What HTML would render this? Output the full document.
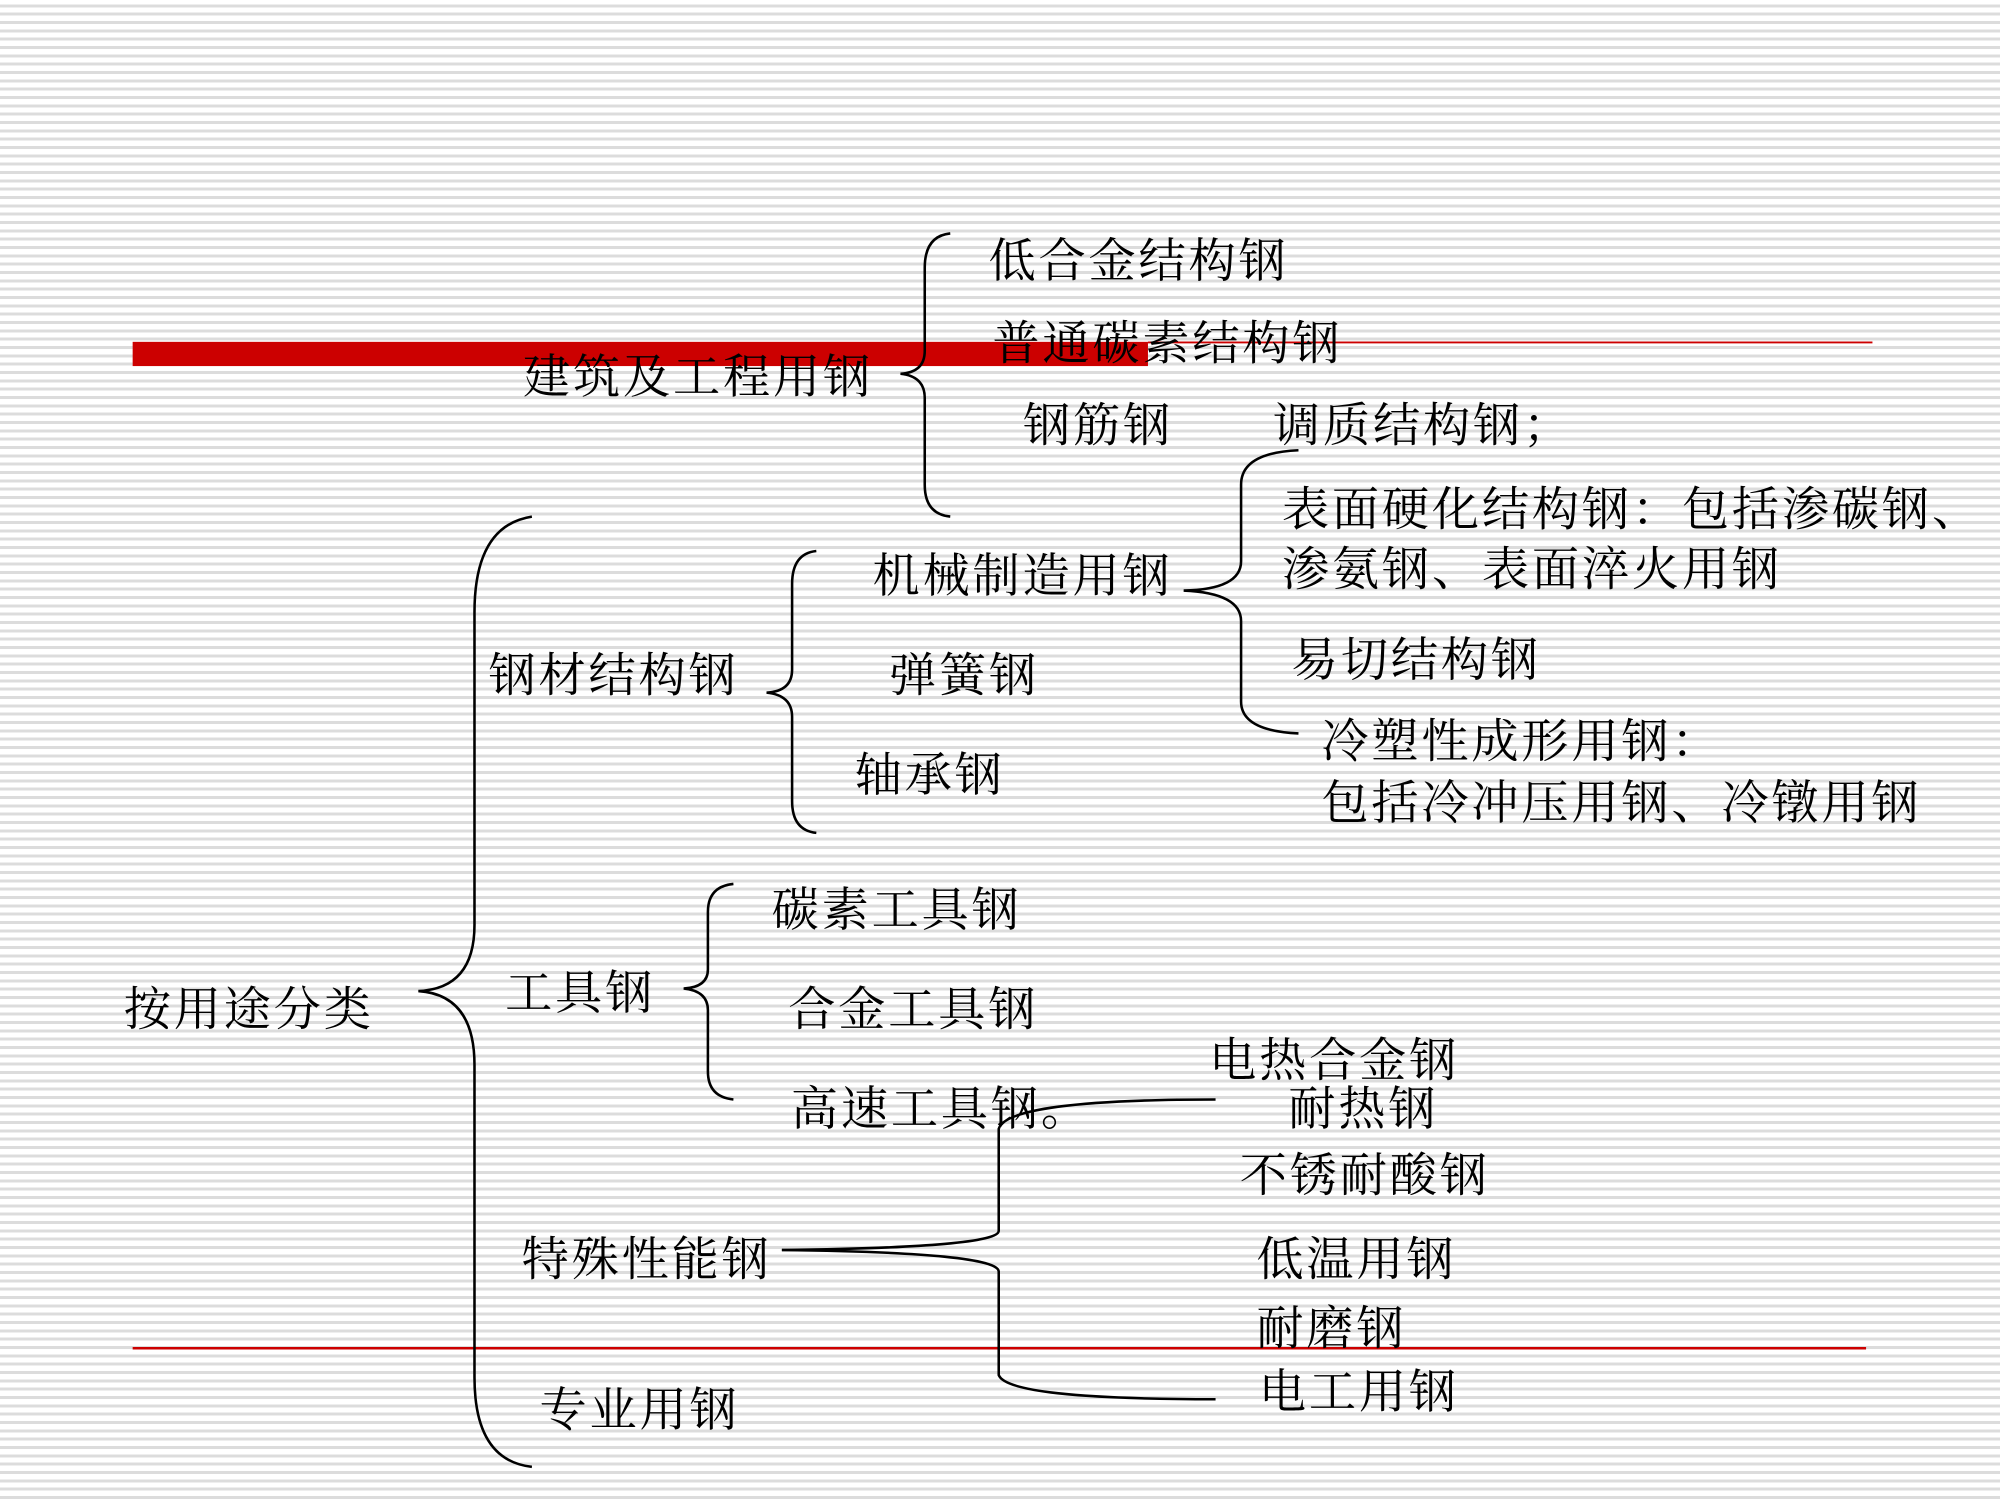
<!DOCTYPE html>
<html><head><meta charset="utf-8"><style>
html,body{margin:0;padding:0;}
body{width:2000px;height:1500px;overflow:hidden;position:relative;
background:repeating-linear-gradient(to bottom,#fff 0px,#fff 4.333px,#dcdcdc 4.333px,#dcdcdc 7.333px,#fff 7.333px,#fff 8.333px);}
#c{position:absolute;left:0;top:0;width:1568px;height:1176px;transform:scale(1.27551);transform-origin:0 0;}
.t{position:absolute;font-family:"Liberation Serif","Noto Serif CJK SC",serif;font-size:37px;letter-spacing:2.2px;line-height:40px;height:40px;white-space:nowrap;color:#000;margin-top:3px;}
svg{position:absolute;left:0;top:0;}
</style></head><body>
<div id="c">
<svg width="1568" height="1176">
<rect x="104" y="268" width="796" height="19" fill="#cc0000"/>
<line x1="900" y1="268.5" x2="1468" y2="268.5" stroke="#cc0000" stroke-width="1.5"/>
<line x1="104" y1="1057" x2="1463" y2="1057" stroke="#cc0000" stroke-width="2"/>
<g fill="none" stroke="#000" stroke-width="2">
<path d="M417,405 Q372,412 372,480 L372,725 Q372,775 328,777 Q372,780 372,835 L372,1080 Q372,1145 417,1150"/>
<path d="M745,183 Q725,185 725,210 L725,275 Q725,292 706,293 Q725,295 725,312 L725,380 Q725,403 745,405"/>
<path d="M640,432 Q621,434 621,458 L621,525 Q621,542 601,543 Q621,545 621,562 L621,628 Q621,651 640,653"/>
<path d="M1018,353 Q973,355 973,380 L973,440 Q973,462 928,463 Q973,465 973,487 L973,550 Q973,573 1018,575"/>
<path d="M575,693 Q555,695 555,715 L555,760 Q555,774 536,775 Q555,777 555,792 L555,840 Q555,860 575,862"/>
<path d="M613,980 Q783,978 783,965 L783,885 Q790,862 953,862"/>
<path d="M613,980 Q783,982 783,997 L783,1078 Q790,1097 953,1097"/>
</g>
</svg>
<div class="t" style="left:775px;top:183px">低合金结构钢</div>
<div class="t" style="left:778px;top:248px">普通碳素结构钢</div>
<div class="t" style="left:410px;top:274px">建筑及工程用钢</div>
<div class="t" style="left:802px;top:312px">钢筋钢</div>
<div class="t" style="left:998px;top:312px">调质结构钢；</div>
<div class="t" style="left:1005px;top:378px">表面硬化结构钢：包括渗碳钢、</div>
<div class="t" style="left:1005px;top:425px">渗氨钢、表面淬火用钢</div>
<div class="t" style="left:684px;top:430px">机械制造用钢</div>
<div class="t" style="left:383px;top:508px">钢材结构钢</div>
<div class="t" style="left:697px;top:508px">弹簧钢</div>
<div class="t" style="left:1012px;top:496px">易切结构钢</div>
<div class="t" style="left:1036px;top:560px">冷塑性成形用钢：</div>
<div class="t" style="left:1036px;top:608px">包括冷冲压用钢、冷镦用钢</div>
<div class="t" style="left:670px;top:586px">轴承钢</div>
<div class="t" style="left:605px;top:692px">碳素工具钢</div>
<div class="t" style="left:396px;top:757px">工具钢</div>
<div class="t" style="left:97px;top:770px">按用途分类</div>
<div class="t" style="left:618px;top:770px">合金工具钢</div>
<div class="t" style="left:948px;top:810px">电热合金钢</div>
<div class="t" style="left:620px;top:848px">高速工具钢。</div>
<div class="t" style="left:1010px;top:848px">耐热钢</div>
<div class="t" style="left:972px;top:900px">不锈耐酸钢</div>
<div class="t" style="left:409px;top:966px">特殊性能钢</div>
<div class="t" style="left:985px;top:966px">低温用钢</div>
<div class="t" style="left:985px;top:1020px">耐磨钢</div>
<div class="t" style="left:987px;top:1070px">电工用钢</div>
<div class="t" style="left:423px;top:1084px">专业用钢</div>
</div>
</body></html>
